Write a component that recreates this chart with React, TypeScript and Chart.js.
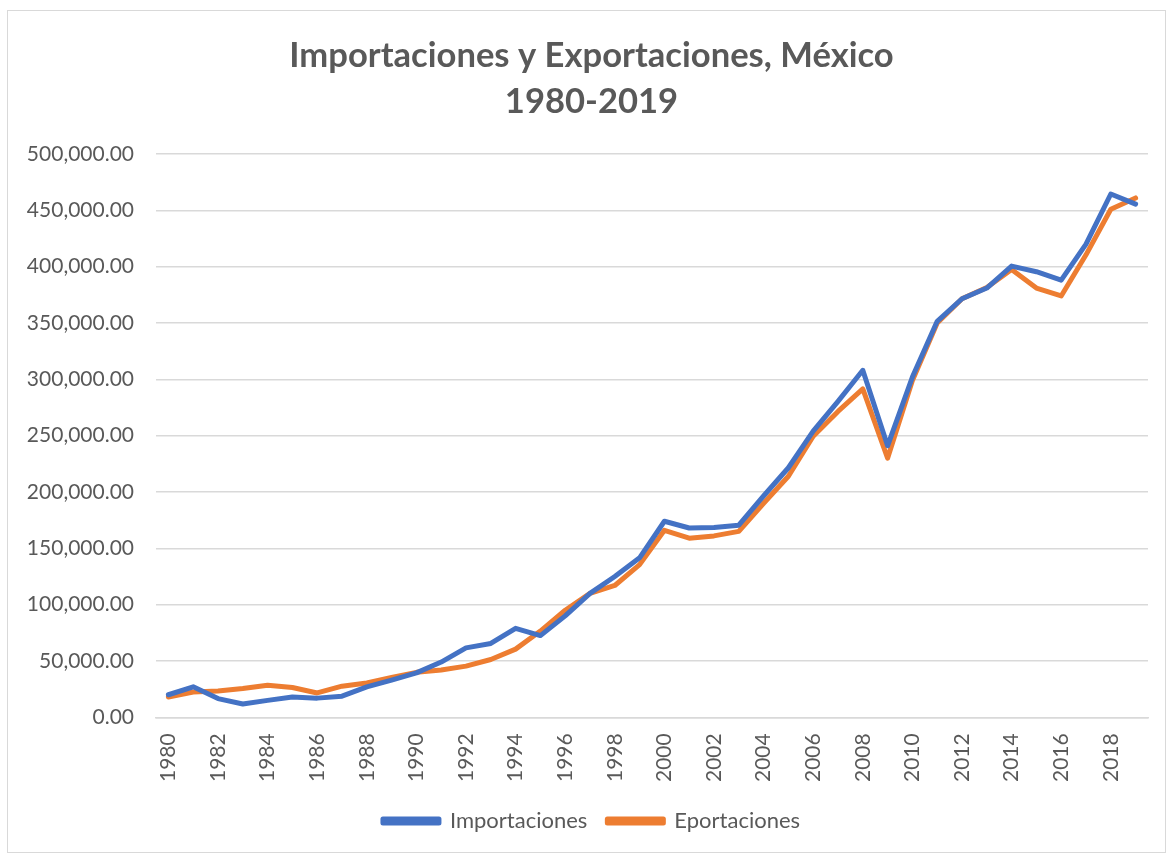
import React, { useEffect, useRef } from "react";
import { Chart, registerables } from "chart.js";

Chart.register(...registerables);

const years: string[] = [
  "1980","1981","1982","1983","1984","1985","1986","1987","1988","1989",
  "1990","1991","1992","1993","1994","1995","1996","1997","1998","1999",
  "2000","2001","2002","2003","2004","2005","2006","2007","2008","2009",
  "2010","2011","2012","2013","2014","2015","2016","2017","2018","2019",
];

const importaciones: number[] = [
  20000, 27000, 16600, 11800, 15000, 18000, 17000, 18700, 27000, 33000,
  39400, 49000, 61600, 65500, 79000, 72500, 90000, 110000, 125000, 141500,
  174000, 168000, 168500, 170500, 196500, 221500, 254000, 280500, 308000, 241000,
  302000, 351500, 371500, 381000, 400500, 395500, 388000, 420000, 464500, 455500,
];

const exportaciones: number[] = [
  18000, 22500, 23400, 25500, 28500, 26400, 21600, 27600, 30500, 35300,
  39900, 42000, 45400, 51300, 60500, 76500, 95000, 110000, 117000, 135500,
  166000, 159000, 161000, 165000, 190000, 214000, 249500, 271500, 291500, 230000,
  299000, 350000, 371500, 381500, 397500, 381000, 374000, 410500, 451000, 461000,
];

const yTickFormat = (v: number) =>
  v.toLocaleString("en-US", { minimumFractionDigits: 2, maximumFractionDigits: 2 });

const FONT = "Lato, 'Open Sans', sans-serif";
const GRAY = "#595959";

export default function App() {
  const ref = useRef<HTMLCanvasElement | null>(null);

  useEffect(() => {
    if (!ref.current) return;
    const chart = new Chart(ref.current, {
      type: "line",
      data: {
        labels: years,
        datasets: [
          {
            label: "Importaciones",
            data: importaciones,
            borderColor: "#4472C4",
            backgroundColor: "#4472C4",
            borderWidth: 5,
            pointRadius: 0,
            tension: 0,
            borderJoinStyle: "round",
            borderCapStyle: "round",
          },
          {
            label: "Eportaciones",
            data: exportaciones,
            borderColor: "#ED7D31",
            backgroundColor: "#ED7D31",
            borderWidth: 5,
            pointRadius: 0,
            tension: 0,
            borderJoinStyle: "round",
            borderCapStyle: "round",
          },
        ],
      },
      options: {
        responsive: false,
        animation: false,
        layout: { padding: { left: 12, right: 2, top: 10, bottom: 10 } },
        plugins: {
          title: {
            display: true,
            text: ["Importaciones y Exportaciones, México", "1980-2019"],
            color: GRAY,
            font: { family: FONT, size: 34.6, weight: "bold", lineHeight: 1.315 },
            padding: { top: 12.5, bottom: 29.5 },
          },
          legend: {
            position: "bottom",
            labels: {
              color: GRAY,
              font: { family: FONT, size: 22 },
              boxWidth: 56,
              boxHeight: 4,
              padding: 20,
            },
          },
          tooltip: { enabled: false },
        },
        scales: {
          x: {
            offset: true,
            afterFit: (s: any) => {
              s.height = s.height - 8;
              s.paddingLeft = 0;
              s.paddingRight = 17;
            },
            grid: { display: false, drawTicks: false },
            border: { color: "#d9d9d9", width: 1.5 },
            ticks: {
              color: GRAY,
              font: { family: FONT, size: 21 },
              maxRotation: 90,
              minRotation: 90,
              autoSkip: false,
              padding: 16,
              callback: (_v: any, i: number) => (i % 2 === 0 ? years[i] : ""),
            },
          },
          y: {
            min: 0,
            max: 500000,
            afterFit: (s: any) => {
              s.width = 136;
            },
            grid: { color: "#d9d9d9", lineWidth: 1.5, drawTicks: false },
            border: { display: false },
            ticks: {
              stepSize: 50000,
              color: GRAY,
              font: { family: FONT, size: 21 },
              padding: 22,
              callback: (v: any) => yTickFormat(Number(v)),
            },
          },
        },
      },
    });
    return () => chart.destroy();
  }, []);

  return (
    <div
      style={{
        position: "absolute",
        left: 7,
        top: 10,
        width: 1157,
        height: 841,
        border: "1px solid #d9d9d9",
        background: "#fff",
      }}
    >
      <canvas ref={ref} width={1157} height={841} style={{ display: "block" }} />
    </div>
  );
}
